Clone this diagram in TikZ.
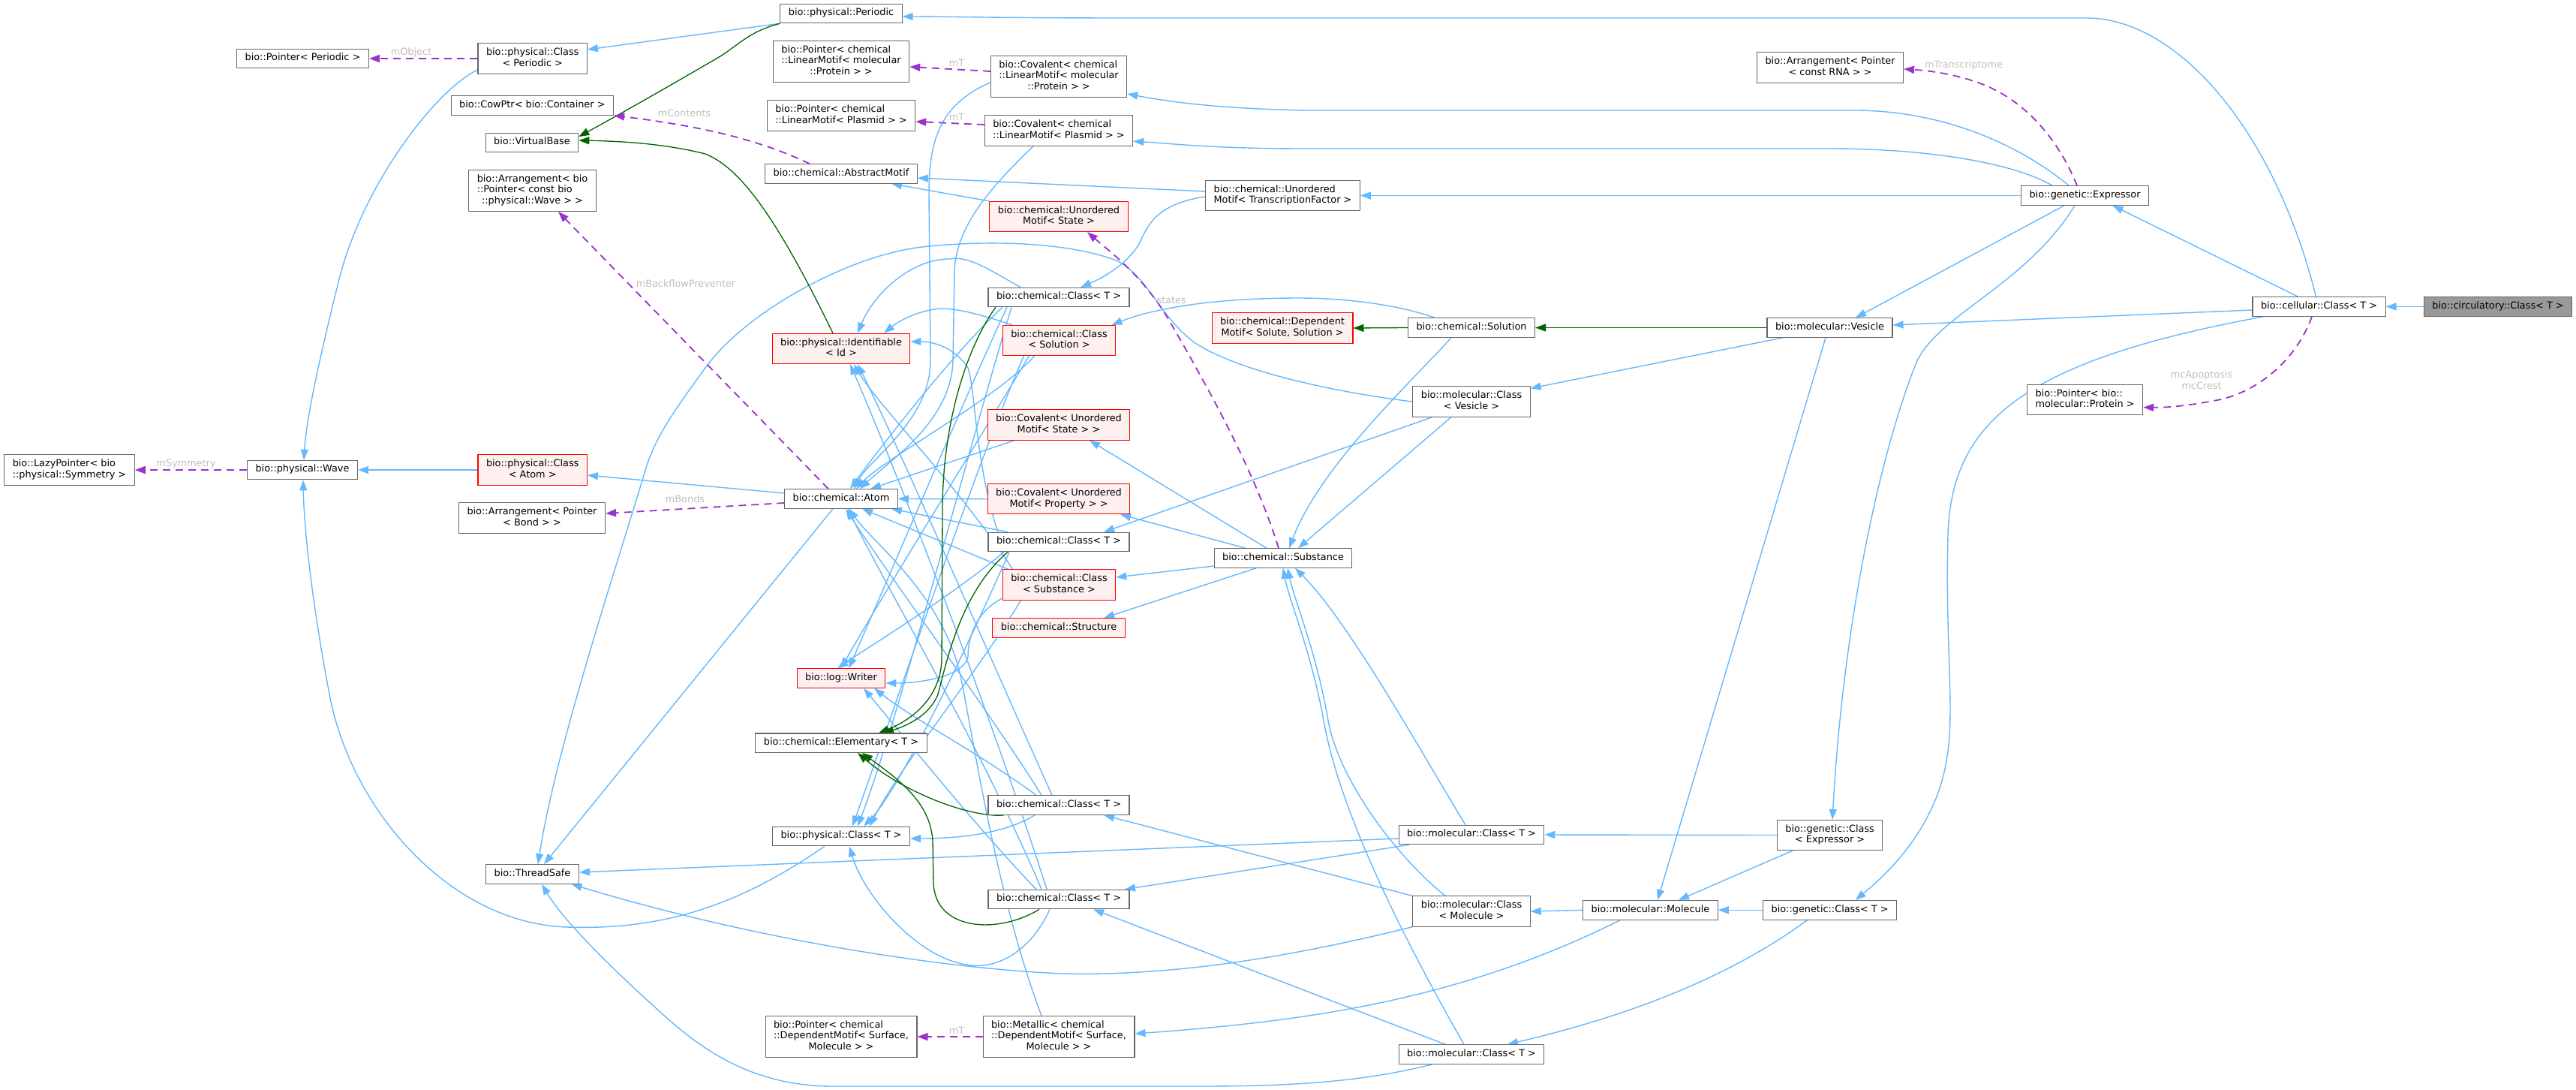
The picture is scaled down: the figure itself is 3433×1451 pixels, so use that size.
\documentclass[tikz,border=0pt]{standalone}
\usepackage{fontspec}
\setmainfont{DejaVu Sans}
\usetikzlibrary{arrows.meta}
\definecolor{inhblue}{HTML}{63B8FF}
\definecolor{protgreen}{HTML}{006400}
\definecolor{usepurple}{HTML}{9A32CD}
\definecolor{lblgray}{HTML}{BEBEBE}
\definecolor{nodegray}{HTML}{666666}
\definecolor{redfill}{HTML}{FFF0F0}
\definecolor{rootfill}{HTML}{999999}
\newcommand\nf{\fontsize{12.85}{14.7}\selectfont}
\newcommand\Ls[1]{\begin{tabular}{@{}c@{}}#1\end{tabular}}
\newcommand\Lm[2]{\begin{tabular}{@{}l@{}}#1\\\multicolumn{1}{@{}c@{}}{#2}\end{tabular}}
\pgfdeclarelayer{bg}
\pgfsetlayers{bg,main}
\begin{document}
\begin{tikzpicture}[x=1pt,y=-1pt,
  box/.style={draw=nodegray,line width=1.1pt,fill=white,inner xsep=11pt,inner ysep=5.4pt,font=\nf},
  redbox/.style={box,draw=red,fill=redfill},
  rootbox/.style={box,fill=rootfill},
  inhline/.style={draw=inhblue,line width=1.4pt,-{Triangle[length=14pt,width=10pt]}},
  protline/.style={draw=protgreen,line width=1.3pt,-{Triangle[length=14pt,width=10pt]}},
  useline/.style={draw=usepurple,line width=1.8pt,dash pattern=on 10pt off 7pt,-{Triangle[length=14pt,width=10pt]}},
  lbl/.style={text=lblgray,font=\nf,inner sep=0pt}]
\useasboundingbox (0,0) rectangle (3433,1451);
% ---------------- nodes
\node[box] (ptrPeriodic) at (403.5,78) {\Ls{bio::Pointer< Periodic >}};
\node[box] (physClassPeriodic) at (709.7,78) {\Lm{bio::physical::Class}{< Periodic >}};
\node[box] (cowPtr) at (709.3,140.5) {\Ls{bio::CowPtr< bio::Container >}};
\node[box] (virtualBase) at (709,190) {\Ls{bio::VirtualBase}};
\node[box] (arrWave) at (709.5,254) {\Lm{bio::Arrangement< bio\\::Pointer< const bio}{::physical::Wave > >}};
\node[box] (periodic) at (1121,18) {\Ls{bio::physical::Periodic}};
\node[box] (ptrLMProtein) at (1121,82) {\Lm{bio::Pointer< chemical\\::LinearMotif< molecular}{::Protein > >}};
\node[box] (covLMProtein) at (1411,102) {\Lm{bio::Covalent< chemical\\::LinearMotif< molecular}{::Protein > >}};
\node[box] (ptrLMPlasmid) at (1121,154) {\Lm{bio::Pointer< chemical}{::LinearMotif< Plasmid > >}};
\node[box] (covLMPlasmid) at (1411,174) {\Lm{bio::Covalent< chemical}{::LinearMotif< Plasmid > >}};
\node[box] (abstractMotif) at (1121,231.5) {\Ls{bio::chemical::AbstractMotif}};
\node[box] (unordTF) at (1709.5,260.5) {\Lm{bio::chemical::Unordered}{Motif< TranscriptionFactor >}};
\node[redbox] (unordState) at (1411,288.5) {\Lm{bio::chemical::Unordered}{Motif< State >}};
\node[box] (chemClassA) at (1411,396) {\Ls{bio::chemical::Class< T >}};
\node[redbox] (identifiable) at (1121,464.5) {\Lm{bio::physical::Identifiable}{< Id >}};
\node[redbox] (classSolution) at (1411.5,453.5) {\Lm{bio::chemical::Class}{< Solution >}};
\node[redbox] (dependentMotif) at (1709,437) {\Lm{bio::chemical::Dependent}{Motif< Solute, Solution >}};
\node[box] (arrRNA) at (2439,90) {\Lm{bio::Arrangement< Pointer}{< const RNA > >}};
\node[box] (solution) at (1961,436.5) {\Ls{bio::chemical::Solution}};
\node[box] (vesicle) at (2438.5,436.5) {\Ls{bio::molecular::Vesicle}};
\node[box] (expressor) at (2778.5,260.5) {\Ls{bio::genetic::Expressor}};
\node[box] (cellularClass) at (3090.5,408.5) {\Ls{bio::cellular::Class< T >}};
\node[rootbox] (circulatory) at (3329,408.5) {\Ls{bio::circulatory::Class< T >}};
\node[box] (lazyPtr) at (92.5,626) {\Lm{bio::LazyPointer< bio}{::physical::Symmetry >}};
\node[box] (wave) at (403,626) {\Ls{bio::physical::Wave}};
\node[redbox] (physClassAtom) at (709.7,626) {\Lm{bio::physical::Class}{< Atom >}};
\node[box] (arrBond) at (709,690) {\Lm{bio::Arrangement< Pointer}{< Bond > >}};
\node[box] (atom) at (1121,664.5) {\Ls{bio::chemical::Atom}};
\node[redbox] (covState) at (1411,566) {\Lm{bio::Covalent< Unordered}{Motif< State > >}};
\node[redbox] (covProperty) at (1411,664.7) {\Lm{bio::Covalent< Unordered}{Motif< Property > >}};
\node[box] (chemClassB) at (1411,722) {\Ls{bio::chemical::Class< T >}};
\node[redbox] (classSubstance) at (1411.5,779) {\Lm{bio::chemical::Class}{< Substance >}};
\node[redbox] (structure) at (1411,836.5) {\Ls{bio::chemical::Structure}};
\node[redbox] (writer) at (1121,903.5) {\Ls{bio::log::Writer}};
\node[box] (substance) at (1710,743.5) {\Ls{bio::chemical::Substance}};
\node[box] (molClassVesicle) at (1961,535) {\Lm{bio::molecular::Class}{< Vesicle >}};
\node[box] (ptrProtein) at (2778.6,532.7) {\Lm{bio::Pointer< bio::}{molecular::Protein >}};
\node[box] (threadSafe) at (709.5,1164.5) {\Ls{bio::ThreadSafe}};
\node[box] (elementary) at (1121,989.7) {\Ls{bio::chemical::Elementary< T >}};
\node[box] (chemClassC) at (1411,1072.5) {\Ls{bio::chemical::Class< T >}};
\node[box] (physClassT) at (1121,1114) {\Ls{bio::physical::Class< T >}};
\node[box] (chemClassD) at (1411,1198) {\Ls{bio::chemical::Class< T >}};
\node[box] (ptrDepMotif) at (1121,1381) {\Lm{bio::Pointer< chemical\\::DependentMotif< Surface,}{Molecule > >}};
\node[box] (metallic) at (1411,1381) {\Lm{bio::Metallic< chemical\\::DependentMotif< Surface,}{Molecule > >}};
\node[box] (molClassTa) at (1961,1112) {\Ls{bio::molecular::Class< T >}};
\node[box] (genClassExpressor) at (2438.6,1112.5) {\Lm{bio::genetic::Class}{< Expressor >}};
\node[box] (molClassMolecule) at (1961,1214) {\Lm{bio::molecular::Class}{< Molecule >}};
\node[box] (molecule) at (2199.4,1212.3) {\Ls{bio::molecular::Molecule}};
\node[box] (genClassT) at (2438.6,1212.3) {\Ls{bio::genetic::Class< T >}};
\node[box] (molClassTb) at (1961,1404.5) {\Ls{bio::molecular::Class< T >}};
% ---------------- labels
\node[lbl] (lObject) at (548,70) {mObject};
\node[lbl] (lContents) at (912,151) {mContents};
\node[lbl] (lTa) at (1275,84) {mT};
\node[lbl] (lTb) at (1275,156) {mT};
\node[lbl] (lTc) at (1275,1373) {mT};
\node[lbl] (lBackflow) at (914,378) {mBackflowPreventer};
\node[lbl] (lBonds) at (913,665) {mBonds};
\node[lbl] (lSymmetry) at (248,618) {mSymmetry};
\node[lbl] (lStates) at (1561,400) {states};
\node[lbl] (lTranscriptome) at (2617,87) {mTranscriptome};
\node[lbl] (lApoptosis) at (2934,508) {\Ls{mcApoptosis\\mcCrest}};
% ---------------- edges
\begin{pgfonlayer}{bg}
\draw[inhline] (circulatory.west) -- (cellularClass.east);
\draw[inhline] ([shift={(-4,0)}]cellularClass.north) .. controls (3030,170) and (2900,24) .. (2781,24) -- (1500,24) .. controls (1350,24) and (1250,22) .. ([shift={(0,4)}]periodic.east);
\draw[inhline] ([shift={(-28,0)}]cellularClass.north) -- ([shift={(37,0)}]expressor.south);
\draw[inhline] ([shift={(0,4.5)}]cellularClass.west) -- ([shift={(0,-3.5)}]vesicle.east);
\draw[inhline] ([shift={(-74,0)}]cellularClass.south) .. controls (2700,480) and (2600,560) .. (2596,713) .. controls (2592,860) and (2606,950) .. (2594,1013) .. controls (2580,1100) and (2520,1160) .. ([shift={(34,0)}]genClassT.north);
\draw[inhline] ([shift={(-21.5,0)}]expressor.north) .. controls (2700,200) and (2600,147) .. (2470,147) -- (1740,147) .. controls (1640,145) and (1570,138) .. ([shift={(0,23)}]covLMProtein.east);
\draw[inhline] ([shift={(-43.5,0)}]expressor.north) .. controls (2680,215) and (2560,198) .. (2440,198) -- (1740,198) .. controls (1620,198) and (1570,192) .. ([shift={(0,14)}]covLMPlasmid.east);
\draw[inhline] (expressor.west) -- (unordTF.east);
\draw[inhline] ([shift={(-27.5,0)}]expressor.south) -- ([shift={(34.5,0)}]vesicle.north);
\draw[inhline] ([shift={(-13.5,0)}]expressor.south) .. controls (2700,380) and (2580,420) .. (2553,485) .. controls (2500,620) and (2455,850) .. ([shift={(3.4,0)}]genClassExpressor.north);
\draw[inhline] ([shift={(-5.5,0)}]vesicle.south) -- ([shift={(9.6,0)}]molecule.north);
\draw[inhline] ([shift={(-62.5,0)}]vesicle.south) -- ([shift={(0,3)}]molClassVesicle.north east);
\draw[inhline] ([shift={(-49,0)}]solution.north) .. controls (1860,405) and (1790,397) .. (1731,397) .. controls (1620,397) and (1540,410) .. ([shift={(70,0)}]classSolution.north);
\draw[inhline] ([shift={(-27,0)}]solution.south) .. controls (1880,510) and (1760,620) .. ([shift={(8,0)}]substance.north);
\draw[inhline] ([shift={(-27,0)}]molClassVesicle.south) -- ([shift={(20,0)}]substance.north);
\draw[inhline] ([shift={(-52,0)}]molClassVesicle.south) -- ([shift={(60,0)}]chemClassB.north);
\draw[inhline] (molClassVesicle.west) .. controls (1760,520) and (1640,490) .. (1590,455) .. controls (1545,420) and (1530,370) .. (1490,348) .. controls (1420,320) and (1300,320) .. (1221,330) .. controls (1120,345) and (990,420) .. (940,490) .. controls (900,545) and (875,580) .. (862,620) .. controls (820,760) and (740,1000) .. ([shift={(7.5,0)}]threadSafe.north);
\draw[inhline] ([shift={(-51,0)}]chemClassA.north) .. controls (1320,360) and (1290,340) .. (1265,345) .. controls (1215,345) and (1165,390) .. ([shift={(22,0)}]identifiable.north);
\draw[inhline] ([shift={(0,1.5)}]unordTF.west) .. controls (1540,272) and (1530,300) .. (1518,325) .. controls (1500,355) and (1465,372) .. ([shift={(29,0)}]chemClassA.north);
\draw[inhline] ([shift={(-62.5,0)}]classSolution.north) .. controls (1310,420) and (1270,408) .. (1245,412) .. controls (1215,417) and (1195,430) .. ([shift={(57,0)}]identifiable.north);
\draw[inhline] ([shift={(0,-5.5)}]unordTF.west) -- ([shift={(0,5.5)}]abstractMotif.east);
\draw[inhline] (unordState.north west) -- ([shift={(67,0)}]abstractMotif.south);
\draw[inhline] ([shift={(-22,0)}]substance.north) -- ([shift={(41,0)}]covState.south);
\draw[inhline] ([shift={(-50,0)}]substance.north) -- ([shift={(82,0)}]covProperty.south);
\draw[inhline] ([shift={(0,10.5)}]substance.west) -- ([shift={(0,-10)}]classSubstance.east);
\draw[inhline] ([shift={(-36,0)}]substance.south) -- ([shift={(60,0)}]structure.north);
\draw[inhline] (covProperty.west) -- (atom.east);
\draw[inhline] ([shift={(-59,0)}]covState.south) -- ([shift={(39,0)}]atom.north);
\draw[inhline] ([shift={(0,8)}]covLMProtein.west) .. controls (1250,140) and (1238,190) .. (1238,260) -- (1240,480) .. controls (1240,560) and (1160,610) .. ([shift={(17,0)}]atom.north);
\draw[inhline] ([shift={(-34,0)}]covLMPlasmid.south) .. controls (1320,250) and (1275,300) .. (1272,360) -- (1270,480) .. controls (1268,560) and (1190,610) .. ([shift={(25,0)}]atom.north);
\draw[inhline] ([shift={(0,15)}]physClassPeriodic.west) .. controls (580,120) and (480,250) .. (450,380) .. controls (425,480) and (408,560) .. ([shift={(2,0)}]wave.north);
\draw[inhline] (periodic.south west) -- ([shift={(0,-12)}]physClassPeriodic.east);
\draw[inhline] (physClassAtom.west) -- (wave.east);
\draw[inhline] ([shift={(0,-7.5)}]atom.west) -- ([shift={(0,7)}]physClassAtom.east);
\draw[inhline] ([shift={(-11,0)}]atom.south) -- ([shift={(15.5,0)}]threadSafe.north);
\draw[inhline] ([shift={(-22,0)}]physClassT.south) .. controls (1000,1195) and (900,1240) .. (756,1235) .. controls (600,1230) and (470,1080) .. (440,930) .. controls (415,800) and (405,700) .. ([shift={(1,0)}]wave.south);
\draw[inhline] ([shift={(-32,0)}]chemClassC.south) .. controls (1340,1110) and (1280,1117) .. ([shift={(0,3)}]physClassT.east);
\draw[inhline] ([shift={(-12,0)}]chemClassD.south) .. controls (1370,1275) and (1320,1292) .. (1288,1285) .. controls (1220,1275) and (1150,1190) .. ([shift={(11,0)}]physClassT.south);
\draw[inhline] (molClassMolecule.south west) .. controls (1700,1280) and (1550,1300) .. (1416,1297) .. controls (1250,1290) and (1000,1250) .. ([shift={(52,0)}]threadSafe.south);
\draw[inhline] ([shift={(0,5)}]molClassTa.west) -- ([shift={(0,-2.5)}]threadSafe.east);
\draw[inhline] ([shift={(-52,0)}]molClassTb.south) .. controls (1820,1440) and (1731,1447) .. (1600,1447) -- (1110,1447) .. controls (990,1447) and (920,1385) .. (871,1340) .. controls (810,1285) and (750,1225) .. ([shift={(12.5,0)}]threadSafe.south);
\draw[inhline] ([shift={(-8,0)}]molClassTa.north) .. controls (1910,1030) and (1800,830) .. ([shift={(16,0)}]substance.south);
\draw[inhline] ([shift={(-35,0)}]molClassMolecule.north) .. controls (1860,1140) and (1785,1040) .. (1770,960) .. controls (1755,870) and (1725,800) .. ([shift={(6,0)}]substance.south);
\draw[inhline] ([shift={(-10,0)}]molClassTb.north) .. controls (1870,1250) and (1785,1080) .. (1764,960) .. controls (1748,870) and (1718,800) .. (substance.south);
\draw[inhline] (molecule.west) -- (molClassMolecule.east);
\draw[inhline] (genClassT.west) -- (molecule.east);
\draw[inhline] (genClassExpressor.west) -- (molClassTa.east);
\draw[inhline] ([shift={(-49.6,0)}]genClassExpressor.south) -- ([shift={(37.6,0)}]molecule.north);
\draw[inhline] ([shift={(-40,0)}]molecule.south) .. controls (1950,1330) and (1750,1360) .. ([shift={(0,-4)}]metallic.east);
\draw[inhline] ([shift={(-30,0)}]genClassT.south) .. controls (2280,1320) and (2120,1365) .. ([shift={(48,0)}]molClassTb.north);
\draw[inhline] ([shift={(-83,0)}]molClassTa.south) -- ([shift={(88,0)}]chemClassD.north);
\draw[inhline] (molClassMolecule.north west) -- ([shift={(60,0)}]chemClassC.south);
\draw[inhline] ([shift={(-35,0)}]molClassTb.north) -- ([shift={(46,0)}]chemClassD.south);
\draw[inhline] ([shift={(-23,0)}]metallic.north) .. controls (1330,1200) and (1300,1000) .. (1280,900) .. controls (1255,790) and (1160,720) .. ([shift={(11,0)}]atom.south);
% central tangle
\draw[inhline] ([shift={(-75,0)}]chemClassA.south) .. controls (1270,470) and (1170,600) .. ([shift={(12,0)}]atom.north);
\draw[inhline] ([shift={(-69,0)}]chemClassA.south) .. controls (1290,520) and (1180,780) .. ([shift={(10,0)}]writer.north);
\draw[inhline] ([shift={(-63,0)}]chemClassA.south) .. controls (1290,600) and (1200,950) .. ([shift={(22,0)}]physClassT.north);
\draw[inhline] ([shift={(-68,0)}]chemClassB.north) -- ([shift={(-9,0)}]atom.south east);
\draw[inhline] ([shift={(-81,0)}]chemClassB.north) .. controls (1300,620) and (1300,520) .. (1290,490) .. controls (1270,460) and (1240,455) .. ([shift={(0,-9.5)}]identifiable.east);
\draw[inhline] ([shift={(-73,0)}]chemClassB.south) .. controls (1260,800) and (1160,860) .. ([shift={(-5,0)}]writer.north);
\draw[inhline] ([shift={(-66,0)}]chemClassB.south) .. controls (1290,860) and (1200,1050) .. ([shift={(30,0)}]physClassT.north);
\draw[inhline] ([shift={(-33,0)}]classSolution.south) .. controls (1330,530) and (1180,610) .. ([shift={(20,0)}]atom.north);
\draw[inhline] ([shift={(-40,0)}]classSolution.south) .. controls (1320,560) and (1160,820) .. (writer.north);
\draw[inhline] ([shift={(-47,0)}]classSolution.south) .. controls (1300,620) and (1190,950) .. ([shift={(15,0)}]physClassT.north);
\draw[inhline] ([shift={(8,0)}]classSubstance.north west) -- ([shift={(28,0)}]atom.south);
\draw[inhline] ([shift={(0,18)}]classSubstance.west) .. controls (1300,815) and (1290,850) .. (1290,875) .. controls (1285,900) and (1230,910) .. ([shift={(0,6.5)}]writer.east);
\draw[inhline] ([shift={(-62,0)}]classSubstance.north) .. controls (1280,650) and (1170,540) .. ([shift={(17,0)}]identifiable.south);
\draw[inhline] ([shift={(-51,0)}]classSubstance.south) .. controls (1300,900) and (1200,1020) .. ([shift={(38,0)}]physClassT.north);
\draw[inhline] ([shift={(-23,0)}]chemClassC.north) .. controls (1320,950) and (1180,760) .. ([shift={(6,0)}]atom.south);
\draw[inhline] ([shift={(-9,0)}]chemClassC.north) .. controls (1330,900) and (1200,600) .. ([shift={(22,0)}]identifiable.south);
\draw[inhline] ([shift={(-30,0)}]chemClassC.north) .. controls (1300,1000) and (1220,960) .. ([shift={(44,0)}]writer.south);
\draw[inhline] ([shift={(-23,0)}]chemClassD.north) .. controls (1310,1000) and (1180,780) .. ([shift={(9,0)}]atom.south);
\draw[inhline] ([shift={(-16,0)}]chemClassD.north) .. controls (1320,950) and (1200,640) .. ([shift={(12,0)}]identifiable.south);
\draw[inhline] ([shift={(-30,0)}]chemClassD.north) .. controls (1300,1100) and (1220,1000) .. ([shift={(30,0)}]writer.south);
% green
\draw[protline] (periodic.south west) .. controls (1000,42) and (990,55) .. (960,75) .. controls (900,110) and (830,150) .. ([shift={(0,-8)}]virtualBase.east);
\draw[protline] ([shift={(-11,0)}]identifiable.north) .. controls (1040,300) and (990,225) .. (940,205) .. controls (880,190) and (820,188) .. ([shift={(0,-3)}]virtualBase.east);
\draw[protline] ([shift={(-84,0)}]chemClassA.south) .. controls (1290,460) and (1256,560) .. (1256,680) -- (1255,880) .. controls (1252,940) and (1200,965) .. ([shift={(50,0)}]elementary.north);
\draw[protline] ([shift={(-68,0)}]chemClassB.south) .. controls (1280,790) and (1262,880) .. (1250,925) .. controls (1238,955) and (1205,968) .. ([shift={(56,0)}]elementary.north);
\draw[protline] ([shift={(-73,0)}]chemClassC.south) .. controls (1300,1090) and (1210,1060) .. ([shift={(22,0)}]elementary.south);
\draw[protline] ([shift={(-26,0)}]chemClassD.south) .. controls (1330,1245) and (1247,1240) .. (1244,1177) -- (1243,1120) .. controls (1240,1070) and (1200,1040) .. ([shift={(28,0)}]elementary.south);
\draw[protline] (vesicle.west) -- (solution.east);
\draw[protline] (solution.west) -- (dependentMotif.east);
% purple usage
\draw[useline] (physClassPeriodic.west) -- (ptrPeriodic.east);
\draw[useline] ([shift={(-42,0)}]abstractMotif.north) .. controls (1020,190) and (950,170) .. (cowPtr.south east);
\draw[useline] ([shift={(0,-7)}]covLMProtein.west) -- ([shift={(0,7)}]ptrLMProtein.east);
\draw[useline] ([shift={(0,-8)}]covLMPlasmid.west) -- ([shift={(0,8)}]ptrLMPlasmid.east);
\draw[useline] ([shift={(-17,0)}]atom.north) -- ([shift={(34.5,0)}]arrWave.south);
\draw[useline] ([shift={(0,5.5)}]atom.west) -- ([shift={(0,-6)}]arrBond.east);
\draw[useline] (wave.west) -- (lazyPtr.east);
\draw[useline] ([shift={(-6,0)}]substance.north) .. controls (1670,620) and (1600,500) .. (1560,430) .. controls (1525,370) and (1485,340) .. ([shift={(38,0)}]unordState.south);
\draw[useline] ([shift={(-10.5,0)}]expressor.north) .. controls (2745,190) and (2700,130) .. (2630,108) .. controls (2600,98) and (2570,94) .. ([shift={(0,2)}]arrRNA.east);
\draw[useline] ([shift={(-9.5,0)}]cellularClass.south) .. controls (3060,480) and (3010,520) .. (2960,532) .. controls (2920,540) and (2890,543) .. ([shift={(0,10)}]ptrProtein.east);
\draw[useline] (metallic.west) -- (ptrDepMotif.east);
\end{pgfonlayer}
\end{tikzpicture}
\end{document}
